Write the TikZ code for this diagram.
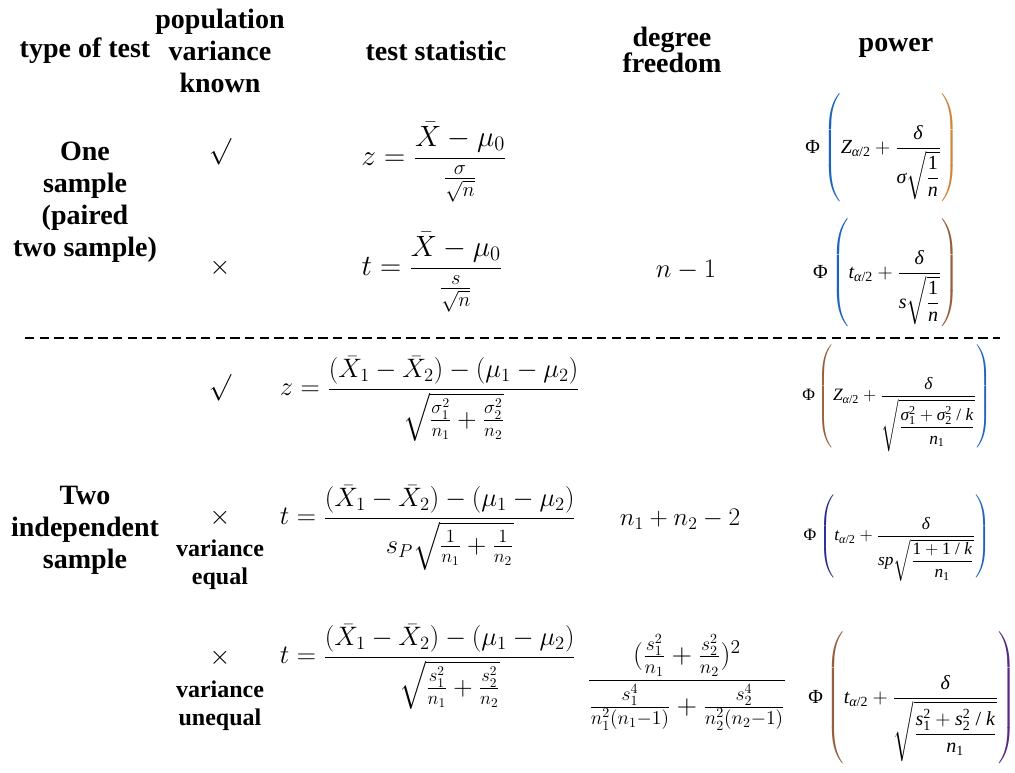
\RequirePackage{fix-cm}
\documentclass[tikz,border=0pt]{standalone}
\usepackage{amsmath}
\usepackage{amssymb}
\usepackage[no-math]{fontspec}
\usepackage{xcolor}
\usepackage{tikz}
\newfontfamily\hdfont{Liberation Serif}
\newcommand{\pv}[1]{\text{\hdfont\itshape #1}}
\newcommand{\pn}[1]{\text{\hdfont\upshape #1}}
\newcommand{\pwr}[3]{\pn{Φ}\color{#1}\left(\color{black}#3\color{#2}\right)}
\definecolor{pblue}{RGB}{30,100,190}
\definecolor{porange}{RGB}{205,135,60}
\definecolor{pbrown}{RGB}{150,95,60}
\definecolor{ppurple}{RGB}{90,40,130}
\definecolor{pnavy}{RGB}{40,40,150}
\tikzset{
  hd/.style={font=\hdfont\bfseries\fontsize{21}{24}\selectfont, align=center},
  sub/.style={font=\hdfont\bfseries\fontsize{18}{21}\selectfont, align=center},
  fm/.style={font=\fontsize{20}{24}\selectfont},
  fml/.style={font=\fontsize{22}{26}\selectfont},
  pw/.style={font=\fontsize{15}{18}\selectfont},
  pws/.style={font=\fontsize{13}{16}\selectfont},
  sep/.style={dash pattern=on 7pt off 4pt, line width=0.8pt}
}
\begin{document}
\begin{tikzpicture}[x=0.75pt, y=-0.75pt]
  \useasboundingbox (0,0) rectangle (1015,772);
  \node[hd] (htype) at (85,51) {type of test};
  \node[hd] (hvar) at (220,51) {population\\variance\\known};
  \node[hd] (hstat) at (436,51) {test statistic};
  \node[hd, font=\hdfont\bfseries\fontsize{21}{20}\selectfont] (hdf) at (672,50) {degree\\freedom};
  \node[hd] (hpow) at (896,48) {power};
  \node[hd] (one) at (85,202) {One\\sample\\(paired\\two sample)};
  \node[hd] (two) at (85,530) {Two\\independent\\sample};
  \node[fm] (k1) at (220,152) {$\surd$};
  \node[fm] (k2) at (220,268) {$\times$};
  \node[fm] (k3) at (220,388) {$\surd$};
  \node[fm] (k4) at (220,518) {$\times$};
  \node[sub] (k4t) at (220,565) {variance\\equal};
  \node[fm] (k5) at (220,658) {$\times$};
  \node[sub] (k5t) at (220,706) {variance\\unequal};
  \node[fml] (s1) at (434,162) {$z=\dfrac{\bar X-\mu_0}{\frac{\sigma}{\sqrt{n}}}$};
  \node[fml] (s2) at (432,272) {$t=\dfrac{\bar X-\mu_0}{\frac{s}{\sqrt{n}}}$};
  \node[fm] (s3) at (430,399) {$z=\dfrac{(\bar X_1-\bar X_2)-(\mu_1-\mu_2)}{\sqrt{\frac{\sigma_1^2}{n_1}+\frac{\sigma_2^2}{n_2}}}$};
  \node[fm] (s4) at (428,528) {$t=\dfrac{(\bar X_1-\bar X_2)-(\mu_1-\mu_2)}{s_P\sqrt{\frac{1}{n_1}+\frac{1}{n_2}}}$};
  \node[fm] (s5) at (428,667) {$t=\dfrac{(\bar X_1-\bar X_2)-(\mu_1-\mu_2)}{\sqrt{\frac{s_1^2}{n_1}+\frac{s_2^2}{n_2}}}$};
  \node[fm] (d2) at (686,270) {$n-1$};
  \node[fm, font=\fontsize{19}{23}\selectfont] (d4) at (680,519) {$n_1+n_2-2$};
  \node[fm, scale=1.05] (d5) at (687,682) {$\dfrac{(\frac{s_1^2}{n_1}+\frac{s_2^2}{n_2})^2}{\frac{s_1^4}{n_1^2(n_1-1)}+\frac{s_2^4}{n_2^2(n_2-1)}}$};
  \node[pw] (p1) at (882,148) {$\pwr{pblue}{porange}{\pv{Z}_{\pv{α}\pn{/2}}+\dfrac{\pv{δ}}{\pv{σ}\sqrt{\dfrac{\pn{1}}{\pv{n}}}}}$};
  \node[pw] (p2) at (886,273) {$\pwr{pblue}{pbrown}{\pv{t}_{\pv{α}\pn{/2}}+\dfrac{\pv{δ}}{\pv{s}\sqrt{\dfrac{\pn{1}}{\pv{n}}}}}$};
  \node[pws] (p3) at (897,398) {$\pwr{pbrown}{pblue}{\pv{Z}_{\pv{α}\pn{/2}}+\dfrac{\pv{δ}}{\sqrt{\dfrac{\pv{σ}_{\pn{1}}^{\pn{2}}+\pv{σ}_{\pn{2}}^{\pn{2}}\pn{ / }\pv{k}}{\pv{n}_{\pn{1}}}}}}$};
  \node[pws] (p4) at (897,538) {$\pwr{pnavy}{pblue}{\pv{t}_{\pv{α}\pn{/2}}+\dfrac{\pv{δ}}{\pv{sp}\sqrt{\dfrac{\pn{1}+\pn{1 / }\pv{k}}{\pv{n}_{\pn{1}}}}}}$};
  \node[pw] (p5) at (912,698) {$\pwr{pbrown}{ppurple}{\pv{t}_{\pv{α}\pn{/2}}+\dfrac{\pv{δ}}{\sqrt{\dfrac{\pv{s}_{\pn{1}}^{\pn{2}}+\pv{s}_{\pn{2}}^{\pn{2}}\pn{ / }\pv{k}}{\pv{n}_{\pn{1}}}}}}$};
  \coordinate (sl) at (25,338);
  \coordinate (sr) at (1000,338);
  \draw[sep] (sl) to (sr);
\end{tikzpicture}
\end{document}
